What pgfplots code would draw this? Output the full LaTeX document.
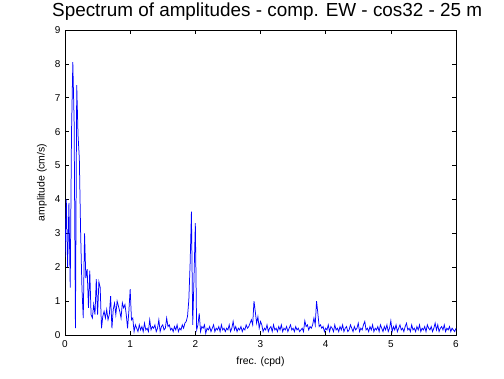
\documentclass[border=0pt]{standalone}
\usepackage{pgfplots}
\pgfplotsset{compat=1.18}
\usepackage{fontspec}
\setmainfont{Liberation Sans}
\begin{document}
\begin{tikzpicture}[x=1bp,y=1bp]
\path[use as bounding box] (0,0) rectangle (504,378);
\fill[white] (0,0) rectangle (504,378);
\begin{axis}[
  at={(65bp,43bp)}, anchor=south west,
  scale only axis, width=391bp, height=305bp,
  xmin=0, xmax=6, ymin=0, ymax=9,
  xtick={0,1,...,6}, ytick={0,1,...,9},
  tick align=inside, major tick length=4bp,
  axis line style={line width=0.8pt},
  every tick/.style={black, line width=0.6pt},
  /pgf/number format/assume math mode=true,
  ticklabel style={font=\fontsize{10}{12}\selectfont},
  xticklabel style={yshift=-2bp},
  yticklabel style={xshift=-1bp},
  xlabel={frec. (cpd)}, ylabel={amplitude (cm/s)},
  label style={font=\fontsize{10.5}{12}\selectfont},
  xlabel style={at={(axis description cs:0.5,-0.088)}, anchor=center},
  ylabel style={at={(axis description cs:-0.059,0.5)}, anchor=center},
]
\addplot[color={rgb,255:red,0;green,0;blue,255}, line width=0.75pt, line join=miter] table {
x y
0.00 2.3
0.02 4.0
0.04 2.0
0.06 3.9
0.08 1.4
0.10 6.0
0.12 8.05
0.14 6.3
0.16 0.2
0.18 7.37
0.20 5.9
0.22 5.2
0.24 3.0
0.26 1.38
0.28 0.5
0.30 3.0
0.32 1.68
0.34 1.94
0.36 0.8
0.38 1.9
0.40 0.6
0.42 0.5
0.44 0.9
0.46 0.6
0.48 1.65
0.50 0.6
0.52 1.57
0.54 1.4
0.56 0.2
0.58 0.55
0.60 0.7
0.62 0.5
0.64 0.75
0.66 0.45
0.68 0.6
0.70 1.15
0.72 0.2
0.74 0.75
0.76 0.94
0.78 0.6
0.80 1.0
0.82 0.85
0.84 0.7
0.86 0.5
0.88 0.95
0.90 0.8
0.92 0.9
0.94 0.6
0.96 0.2
0.98 0.7
1.00 1.35
1.02 0.45
1.04 0.5
1.06 0.1
1.08 0.3
1.10 0.2
1.12 0.1
1.14 0.3
1.16 0.15
1.18 0.25
1.20 0.1
1.22 0.35
1.24 0.15
1.26 0.2
1.28 0.1
1.30 0.45
1.32 0.15
1.34 0.25
1.36 0.2
1.38 0.3
1.40 0.1
1.42 0.2
1.44 0.45
1.46 0.1
1.48 0.25
1.50 0.3
1.52 0.15
1.54 0.2
1.56 0.5
1.58 0.25
1.60 0.3
1.62 0.15
1.64 0.2
1.66 0.1
1.68 0.25
1.70 0.15
1.72 0.3
1.74 0.1
1.76 0.2
1.78 0.15
1.80 0.3
1.82 0.2
1.84 0.35
1.86 0.4
1.88 0.55
1.90 1.03
1.92 2.1
1.94 3.64
1.96 0.3
1.98 1.72
2.00 3.3
2.02 0.15
2.04 0.3
2.06 0.64
2.08 0.1
2.10 0.25
2.12 0.2
2.14 0.3
2.16 0.05
2.18 0.2
2.20 0.15
2.22 0.25
2.24 0.1
2.26 0.2
2.28 0.3
2.30 0.1
2.32 0.2
2.34 0.15
2.36 0.25
2.38 0.1
2.40 0.3
2.42 0.15
2.44 0.2
2.46 0.1
2.48 0.2
2.50 0.15
2.52 0.3
2.54 0.1
2.56 0.2
2.58 0.4
2.60 0.15
2.62 0.25
2.64 0.1
2.66 0.2
2.68 0.15
2.70 0.25
2.72 0.1
2.74 0.2
2.76 0.15
2.78 0.3
2.80 0.2
2.82 0.25
2.84 0.35
2.86 0.45
2.88 0.3
2.90 1.0
2.92 0.69
2.94 0.35
2.96 0.54
2.98 0.2
3.00 0.4
3.02 0.3
3.04 0.1
3.06 0.2
3.08 0.15
3.10 0.3
3.12 0.1
3.14 0.2
3.16 0.25
3.18 0.1
3.20 0.3
3.22 0.15
3.24 0.2
3.26 0.1
3.28 0.25
3.30 0.15
3.32 0.3
3.34 0.1
3.36 0.2
3.38 0.15
3.40 0.25
3.42 0.1
3.44 0.2
3.46 0.3
3.48 0.15
3.50 0.2
3.52 0.1
3.54 0.25
3.56 0.15
3.58 0.2
3.60 0.1
3.62 0.15
3.64 0.2
3.66 0.1
3.68 0.42
3.70 0.25
3.72 0.3
3.74 0.15
3.76 0.25
3.78 0.2
3.80 0.3
3.82 0.5
3.84 0.3
3.86 1.0
3.88 0.64
3.90 0.25
3.92 0.3
3.94 0.2
3.96 0.25
3.98 0.1
4.00 0.2
4.02 0.15
4.04 0.3
4.06 0.1
4.08 0.25
4.10 0.2
4.12 0.1
4.14 0.3
4.16 0.15
4.18 0.2
4.20 0.1
4.22 0.25
4.24 0.15
4.26 0.3
4.28 0.1
4.30 0.2
4.32 0.25
4.34 0.1
4.36 0.15
4.38 0.3
4.40 0.2
4.42 0.1
4.44 0.25
4.46 0.15
4.48 0.2
4.50 0.35
4.52 0.1
4.54 0.2
4.56 0.15
4.58 0.3
4.60 0.4
4.62 0.15
4.64 0.2
4.66 0.1
4.68 0.25
4.70 0.15
4.72 0.3
4.74 0.1
4.76 0.2
4.78 0.15
4.80 0.25
4.82 0.1
4.84 0.3
4.86 0.2
4.88 0.1
4.90 0.25
4.92 0.15
4.94 0.3
4.96 0.1
4.98 0.2
5.00 0.42
5.02 0.1
5.04 0.25
5.06 0.15
5.08 0.3
5.10 0.1
5.12 0.2
5.14 0.3
5.16 0.15
5.18 0.2
5.20 0.1
5.22 0.25
5.24 0.35
5.26 0.15
5.28 0.2
5.30 0.1
5.32 0.3
5.34 0.15
5.36 0.2
5.38 0.1
5.40 0.25
5.42 0.15
5.44 0.3
5.46 0.1
5.48 0.2
5.50 0.15
5.52 0.25
5.54 0.1
5.56 0.3
5.58 0.2
5.60 0.15
5.62 0.25
5.64 0.1
5.66 0.2
5.68 0.35
5.70 0.15
5.72 0.3
5.74 0.1
5.76 0.2
5.78 0.25
5.80 0.15
5.82 0.3
5.84 0.1
5.86 0.2
5.88 0.15
5.90 0.25
5.92 0.1
5.94 0.2
5.96 0.15
5.98 0.1
6.00 0.2
};
\end{axis}
\node[anchor=base west, inner sep=0pt] at (52,361.5) {\resizebox{430bp}{!}{\fontsize{16}{19}\selectfont Spectrum of amplitudes - comp. EW - cos32 - 25 m}};
\end{tikzpicture}
\end{document}
